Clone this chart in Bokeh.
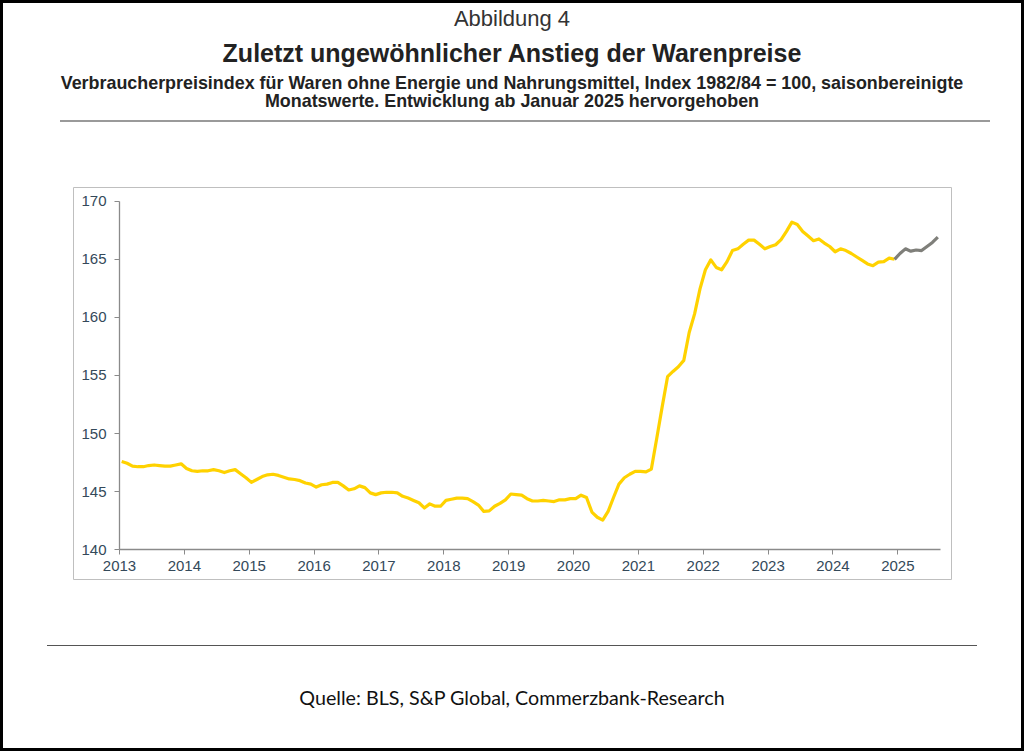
from bokeh.plotting import figure
from bokeh.models import Div, Spacer, FixedTicker, Range1d
from bokeh.layouts import column, row
from bokeh.embed import file_html
from bokeh.resources import INLINE

# ---- data (monthly, seasonally adjusted CPI goods ex energy & food, 1982/84=100) ----
start_year = 2013
v2013 = [147.6, 147.45, 147.2, 147.15, 147.15, 147.25, 147.3, 147.25, 147.2, 147.2, 147.3, 147.4]
v2014 = [147.0, 146.8, 146.75, 146.8, 146.8, 146.9, 146.8, 146.65, 146.8, 146.9, 146.55, 146.2]
v2015 = [145.8, 146.05, 146.3, 146.45, 146.5, 146.4, 146.25, 146.1, 146.05, 145.95, 145.75, 145.65]
v2016 = [145.4, 145.6, 145.65, 145.8, 145.8, 145.5, 145.15, 145.25, 145.5, 145.35, 144.9, 144.75]
v2017 = [144.9, 144.95, 144.95, 144.9, 144.6, 144.45, 144.25, 144.05, 143.6, 143.95, 143.75, 143.75]
v2018 = [144.25, 144.35, 144.45, 144.45, 144.4, 144.15, 143.85, 143.3, 143.35, 143.75, 144.0, 144.3]
v2019 = [144.8, 144.75, 144.7, 144.4, 144.2, 144.2, 144.25, 144.2, 144.15, 144.3, 144.3, 144.4]
v2020 = [144.4, 144.7, 144.5, 143.25, 142.8, 142.55, 143.3, 144.5, 145.65, 146.2, 146.5, 146.75]
v2021 = [146.75, 146.7, 146.95, 149.6, 152.3, 154.9, 155.35, 155.75, 156.3, 158.7, 160.3, 162.45]
v2022 = [164.1, 164.95, 164.3, 164.1, 164.8, 165.75, 165.9, 166.3, 166.65, 166.65, 166.3, 165.9]
v2023 = [166.1, 166.25, 166.7, 167.4, 168.2, 168.0, 167.4, 167.0, 166.6, 166.75, 166.4, 166.1]
v2024 = [165.65, 165.9, 165.75, 165.5, 165.2, 164.9, 164.6, 164.45, 164.75, 164.8, 165.1, 165.0]
v2025 = [165.5, 165.9, 165.7, 165.8, 165.75, 166.1, 166.45, 166.9]

year_ticks = list(range(2013, 2026))
year_labels = [str(y) for y in year_ticks]
y_ticks = [140, 145, 150, 155, 160, 165, 170]
x_axis_span = (2013, 2025.66)
y_axis_span = (140, 170)

title_small = "Abbildung 4"
title_main = "Zuletzt ungewöhnlicher Anstieg der Warenpreise"
subtitle_1 = "Verbraucherpreisindex für Waren ohne Energie und Nahrungsmittel, Index 1982/84 = 100, saisonbereinigte"
subtitle_2 = "Monatswerte. Entwicklung ab Januar 2025 hervorgehoben"
source_text = "Quelle: BLS, S&amp;P Global, Commerzbank-Research"

YELLOW = "#FFD200"
GREY = "#7f7f7a"

# ---- assemble ----
hist = v2013 + v2014 + v2015 + v2016 + v2017 + v2018 + v2019 + v2020 + v2021 + v2022 + v2023 + v2024
recent = v2025
all_vals = hist + recent
xs = [start_year + (i + 0.4) / 12.0 for i in range(len(all_vals))]
n_hist = len(hist)
x_hist, y_hist = xs[:n_hist], hist
x_new, y_new = xs[n_hist - 1:], all_vals[n_hist - 1:]

# frame = the grey box (880 x 394); axes drawn at fixed locations inside it
p = figure(width=880, height=394,
           x_range=Range1d(2012.2908, 2025.8276), y_range=Range1d(137.444, 171.179),
           output_backend="svg", toolbar_location=None,
           min_border_left=1, min_border_right=1,
           min_border_top=1, min_border_bottom=1)
p.outline_line_color = "#bfbfbf"
p.outline_line_width = 1
p.grid.visible = False
p.background_fill_color = "white"
p.border_fill_color = "white"

p.line(x_hist, y_hist, line_color=YELLOW, line_width=3.2, line_join="round")
p.line(x_new, y_new, line_color=GREY, line_width=3.2, line_join="round")

p.xaxis.ticker = FixedTicker(ticks=year_ticks)
p.xaxis.major_label_overrides = {t: l for t, l in zip(year_ticks, year_labels)}
p.xaxis.fixed_location = y_axis_span[0]
p.xaxis.bounds = x_axis_span
p.yaxis.ticker = FixedTicker(ticks=y_ticks)
p.yaxis.fixed_location = x_axis_span[0]
p.yaxis.bounds = y_axis_span
for ax in (p.xaxis[0], p.yaxis[0]):
    ax.axis_line_color = "#8a8a8a"
    ax.axis_line_width = 1.3
    ax.major_tick_line_color = "#8a8a8a"
    ax.major_tick_in = 0
    ax.major_tick_out = 5
    ax.minor_tick_line_color = None
    ax.major_label_text_font = "Liberation Sans"
    ax.major_label_text_font_size = "15px"
    ax.major_label_text_color = "#34495a"
p.yaxis.major_label_standoff = 8
p.xaxis.major_label_standoff = 6

FONT = "'Liberation Sans', Arial, sans-serif"
header_html = f"""
<div style="position:relative;width:1024px;height:186px;font-family:{FONT};">
  <div style="position:absolute;left:0;top:8px;width:1024px;text-align:center;font-size:22px;line-height:22px;color:#333;white-space:nowrap;">{title_small}</div>
  <div style="position:absolute;left:0;top:41px;width:1024px;text-align:center;font-size:25px;line-height:25px;font-weight:bold;color:#222;white-space:nowrap;">{title_main}</div>
  <div style="position:absolute;left:0;top:74px;width:1024px;text-align:center;font-size:17.9px;line-height:18px;font-weight:bold;color:#222;white-space:nowrap;">{subtitle_1}</div>
  <div style="position:absolute;left:0;top:92px;width:1024px;text-align:center;font-size:17.9px;line-height:18px;font-weight:bold;color:#222;white-space:nowrap;">{subtitle_2}</div>
  <div style="position:absolute;left:60px;top:120px;width:930px;height:2px;background:#9a9a9a;"></div>
</div>
"""
header = Div(text=header_html, width=1024, height=186, margin=0)

footer_html = f"""
<div style="position:relative;width:1024px;height:171px;">
  <div style="position:absolute;left:47px;top:65px;width:930px;height:1px;background:#555;"></div>
  <div style="position:absolute;left:0;top:108px;width:1024px;text-align:center;font-family:Lato, 'Open Sans', sans-serif;font-size:19.7px;line-height:20px;color:#111;white-space:nowrap;">{source_text}</div>
</div>
"""
footer = Div(text=footer_html, width=1024, height=171, margin=0)

mid = row(Spacer(width=72, height=394, margin=0), p, Spacer(width=72, height=394, margin=0))
page = column(header, mid, footer,
              styles={"outline": "3px solid black", "outline-offset": "-3px"})

open("out.html", "w").write(file_html(page, INLINE))
